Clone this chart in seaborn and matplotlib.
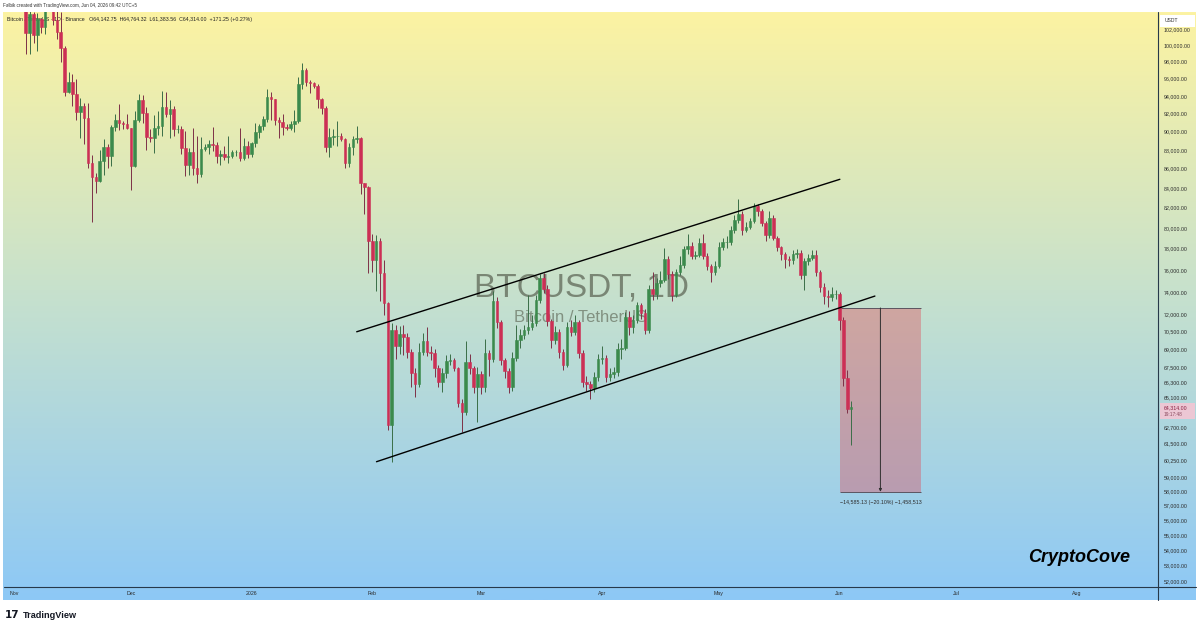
import numpy as np
import pandas as pd
import seaborn as sns
import matplotlib.pyplot as plt
import matplotlib.dates as mdates
from matplotlib import font_manager
from matplotlib.colors import LinearSegmentedColormap
from matplotlib.lines import Line2D
from matplotlib.patches import Rectangle
from matplotlib.ticker import NullLocator, NullFormatter

# BTCUSDT daily candles from 1 Nov 2025, values in thousands of USDT
first_open = 109.6
close_k = [
    # Nov
    110.1, 110.6, 106.5, 101.5, 103.9, 101.3, 103.3, 102.3, 104.7, 106.0,
    103.1, 101.6, 99.7, 94.5, 95.6, 94.2, 92.2, 92.9, 91.5, 86.6,
    85.1, 84.7, 86.8, 88.3, 87.3, 90.5, 91.3, 90.9, 90.8, 90.4,
    # Dec
    86.3, 91.3, 93.5, 92.1, 89.4, 89.3, 90.4, 90.6, 92.7, 92.0,
    92.5, 90.3, 90.3, 88.2, 86.4, 87.8, 86.1, 85.5, 88.1, 88.3,
    88.6, 88.5, 87.4, 87.6, 87.2, 87.3, 87.8, 87.8, 87.1, 88.4, 87.6,
    # Jan
    88.7, 90.0, 90.6, 91.4, 93.9, 93.7, 91.3, 91.0, 90.5, 90.4,
    90.8, 91.2, 95.4, 97.0, 95.6, 95.5, 95.1, 93.6, 92.6, 88.3,
    89.4, 89.5, 89.5, 89.2, 86.6, 88.3, 89.2, 89.3, 84.5, 84.1, 78.7,
    # Feb
    76.9, 78.7, 75.7, 73.0, 62.9, 70.6, 69.3, 70.3, 70.0, 68.8,
    67.0, 66.1, 68.8, 69.7, 68.8, 68.7, 67.4, 66.3, 67.0, 68.0,
    68.1, 67.4, 64.6, 63.9, 67.9, 67.4, 65.9, 66.9,
    # Mar
    65.9, 68.7, 68.2, 73.2, 71.3, 68.1, 67.2, 65.9, 68.3, 69.8,
    70.2, 70.6, 70.9, 71.2, 73.3, 75.3, 74.3, 71.4, 69.8, 70.5,
    68.8, 67.7, 70.9, 70.5, 71.3, 68.7, 66.3, 66.1, 65.8, 66.7, 68.2,
    # Apr
    68.3, 66.7, 66.9, 67.1, 69.0, 69.1, 71.8, 70.9, 71.5, 72.8,
    72.1, 70.6, 74.3, 73.8, 74.8, 75.1, 77.0, 75.6, 73.7, 75.8,
    76.5, 78.0, 78.3, 77.3, 77.4, 78.5, 77.3, 76.4, 75.8, 76.4,
    # May
    78.2, 78.6, 78.6, 79.8, 80.8, 81.4, 79.8, 80.1, 80.7, 82.2,
    81.7, 80.5, 79.3, 81.0, 79.0, 78.2, 77.5, 77.0, 76.9, 77.5,
    77.6, 75.5, 76.8, 77.1, 77.4, 75.8, 74.4, 73.6, 73.5, 73.8, 73.8,
    # Jun
    71.5, 66.6, 64.14275, 64.314,
]
high_k = [
    110.6, 111.2, 110.8, 107.3, 104.5, 104.2, 104.0, 103.4, 105.0, 106.6,
    107.5, 105.3, 104.1, 99.9, 96.8, 96.6, 96.0, 93.8, 93.2, 93.2,
    87.5, 85.6, 88.0, 89.2, 88.6, 90.7, 91.9, 93.1, 91.2, 92.0,
    90.4, 92.3, 94.2, 94.1, 92.7, 90.3, 91.8, 92.3, 94.6, 94.5,
    93.5, 92.8, 90.7, 90.6, 90.1, 88.2, 90.4, 89.5, 89.4, 88.6,
    89.1, 90.5, 88.9, 88.0, 88.4, 89.5, 88.0, 88.0, 90.4, 89.3, 89.0,
    88.9, 90.9, 90.8, 91.7, 94.8, 94.4, 93.7, 91.6, 91.9, 90.8,
    91.2, 92.4, 96.2, 97.9, 97.2, 95.8, 95.6, 95.4, 93.8, 92.8,
    90.4, 90.3, 91.2, 89.8, 89.3, 88.8, 89.5, 90.6, 89.4, 84.5, 84.2,
    79.4, 79.3, 79.0, 76.9, 73.1, 71.2, 71.1, 71.0, 71.1, 70.4,
    69.0, 67.4, 69.5, 70.4, 70.9, 69.3, 69.0, 67.7, 67.4, 68.5,
    68.6, 68.3, 67.5, 64.9, 69.7, 68.6, 67.6, 67.5,
    67.2, 69.9, 68.9, 74.1, 73.5, 71.5, 68.3, 67.4, 68.8, 71.1,
    70.7, 71.1, 73.7, 71.9, 73.7, 75.6, 75.7, 74.6, 71.6, 71.0,
    70.7, 69.0, 71.3, 71.5, 71.9, 71.5, 68.9, 66.8, 66.4, 67.1, 68.6,
    69.3, 68.5, 67.4, 67.5, 69.5, 69.9, 72.2, 72.3, 71.9, 73.1,
    73.0, 72.5, 74.6, 75.8, 75.3, 75.9, 78.1, 77.3, 75.9, 76.1,
    77.3, 78.3, 79.4, 78.6, 77.8, 79.0, 79.4, 77.6, 76.6, 76.8,
    78.6, 79.0, 79.2, 80.2, 81.3, 82.9, 81.7, 80.6, 81.0, 82.5,
    82.4, 81.9, 80.7, 81.7, 81.3, 79.2, 78.3, 77.7, 77.3, 77.9,
    78.0, 77.9, 77.1, 77.5, 77.9, 77.9, 76.0, 74.8, 74.2, 74.4, 74.2,
    74.0, 71.8, 67.3, 64.76432,
]
low_k = [
    109.4, 109.5, 105.3, 98.9, 98.9, 100.3, 99.3, 101.5, 101.4, 104.3,
    102.5, 100.8, 98.0, 94.0, 94.3, 92.9, 91.3, 89.3, 88.6, 86.1,
    80.6, 83.5, 84.6, 85.3, 86.1, 86.3, 90.1, 90.2, 90.3, 90.3,
    83.8, 86.2, 91.0, 90.9, 88.0, 88.9, 87.7, 89.6, 89.5, 91.6,
    89.3, 89.5, 89.8, 87.6, 85.2, 85.3, 85.3, 84.5, 85.1, 87.9,
    87.6, 87.9, 86.6, 86.4, 86.9, 86.6, 87.1, 87.4, 86.8, 86.9, 87.1,
    87.2, 88.3, 89.3, 90.2, 91.0, 91.3, 90.7, 89.3, 89.6, 90.2,
    90.2, 90.0, 90.9, 94.8, 95.1, 94.3, 94.9, 92.6, 91.9, 87.8,
    87.2, 88.5, 88.4, 89.0, 86.1, 86.2, 87.5, 88.8, 83.4, 81.4, 75.7,
    75.8, 74.1, 73.2, 71.9, 62.5, 60.1, 68.2, 68.6, 68.5, 68.3,
    65.9, 65.1, 65.9, 68.5, 68.4, 68.1, 66.7, 65.9, 65.5, 66.6,
    67.7, 67.2, 64.3, 62.4, 63.7, 66.9, 65.4, 63.1,
    65.3, 65.5, 66.8, 67.9, 70.8, 67.7, 66.6, 65.4, 65.6, 68.0,
    69.1, 69.9, 70.3, 70.6, 71.0, 73.0, 73.9, 71.0, 69.1, 69.4,
    68.3, 67.3, 67.5, 70.1, 70.2, 68.3, 65.9, 65.6, 64.9, 65.5, 66.4,
    67.8, 66.3, 66.4, 66.6, 66.8, 68.2, 68.9, 70.2, 70.4, 71.2,
    71.6, 70.3, 70.4, 73.3, 73.4, 74.4, 74.9, 75.2, 73.2, 73.5,
    75.5, 76.2, 77.5, 77.0, 77.0, 77.2, 77.0, 76.0, 74.9, 75.5,
    76.2, 77.9, 78.1, 78.4, 79.5, 80.5, 79.3, 79.6, 79.9, 80.5,
    81.2, 80.2, 78.7, 79.0, 78.8, 77.8, 76.9, 76.2, 76.4, 76.6,
    77.1, 75.2, 74.2, 76.5, 76.9, 75.4, 74.0, 72.9, 72.6, 73.2, 73.4,
    70.6, 66.0, 63.8, 61.38356,
]

month_ticks = ['2025-11-01', '2025-12-01', '2026-01-01', '2026-02-01', '2026-03-01',
               '2026-04-01', '2026-05-01', '2026-06-01', '2026-07-01', '2026-08-01']
month_labels = ['Nov', 'Dec', '2026', 'Feb', 'Mar', 'Apr', 'May', 'Jun', 'Jul', 'Aug']
price_ticks = [102000, 100000, 98000, 96000, 94000, 92000, 90000, 88000, 86000, 84000,
               82000, 80000, 78000, 76000, 74000, 72000, 70500, 69000, 67500, 66300,
               65100, 62700, 61500, 60250, 59000, 58000, 57000, 56000, 55000, 54000,
               53000, 52000]

# rising channel drawn on the chart
upper_dates = ['2026-01-28 00:00', '2026-06-01 02:00']
upper_prices = [70480, 84900]
lower_dates = ['2026-02-02 02:00', '2026-06-10 02:00']
lower_prices = [60140, 73620]

# price range measure tool
measure_dates = ['2026-06-01', '2026-06-22']
measure_prices = [72560.0, 57974.87]
measure_text = '\u221214,585.13 (\u221220.10%) \u22121,458,513'

df = pd.DataFrame({
    'date': pd.date_range('2025-11-01', periods=len(close_k), freq='D'),
    'close': np.array(close_k) * 1000,
    'high': np.array(high_k) * 1000,
    'low': np.array(low_k) * 1000,
})
df['open'] = df['close'].shift(1).fillna(first_open * 1000)
df['x'] = mdates.date2num(df['date'])
up = df['close'] >= df['open']

sns.set_theme(style='white')
plt.rcParams['font.family'] = ['Liberation Sans', 'DejaVu Sans']

W, H = 1200, 629


def fx(px):
    return px / W


def fy(py):
    return 1 - py / H


fig = plt.figure(figsize=(12, 6.29), dpi=100, facecolor='white')

# gradient background + watermark
bg = fig.add_axes([fx(3), fy(600), fx(1196) - fx(3), fy(12) - fy(600)])
cmap = LinearSegmentedColormap.from_list('tv', ['#fcf3a2', '#c4e0cf', '#8dc8f6'])
bg.imshow(np.linspace(0, 1, 256).reshape(-1, 1), aspect='auto', cmap=cmap,
          extent=[0, 1, 0, 1], origin='upper')
bg.set_xlim(0, 1)
bg.set_ylim(0, 1)
bg.set_axis_off()

installed = {f.name for f in font_manager.fontManager.ttflist}
if 'Liberation Sans Narrow' in installed:
    wm_family, wm_size = 'Liberation Sans Narrow', 28
else:
    wm_family, wm_size = 'Liberation Sans', 24
bg.text((582 - 3) / 1193, 1 - (288 - 12) / 588, 'BTCUSDT, 1D', family=wm_family,
        fontsize=wm_size, ha='center', va='center', color='#66705f', alpha=0.8)
bg.text((581 - 3) / 1193, 1 - (318 - 12) / 588, 'Bitcoin / TetherUS', fontsize=12,
        ha='center', va='center', color='#66705f', alpha=0.7)

# main price axes
ax = fig.add_axes([fx(4), fy(587), fx(1158) - fx(4), fy(12) - fy(587)])
ax.set_facecolor('none')
ax.set_yscale('log')

green, red = '#3b8a4c', '#cc2f55'
body_colors = np.where(up, green, red)
wick_colors = np.where(up, '#3a6e47', '#7d3047')

ax.vlines(df['x'], df['low'], df['high'], colors=wick_colors, lw=0.7, zorder=3)
ax.bar(df['x'], df['close'] - df['open'], bottom=df['open'], width=0.66,
       color=body_colors, edgecolor=body_colors, lw=0.4, zorder=4)

# channel lines
sns.lineplot(x=mdates.date2num(pd.to_datetime(upper_dates)), y=upper_prices, ax=ax,
             color='black', lw=1.0, zorder=5)
sns.lineplot(x=mdates.date2num(pd.to_datetime(lower_dates)), y=lower_prices, ax=ax,
             color='black', lw=1.0, zorder=5)

# measure box
mx = mdates.date2num(pd.to_datetime(measure_dates))
p_top, p_bot = measure_prices
ax.add_patch(Rectangle((mx[0], p_bot), mx[1] - mx[0], p_top - p_bot,
                       facecolor='#e4404f', alpha=0.36, lw=0, zorder=2))
ax.hlines([p_top, p_bot], mx[0], mx[1], color='#5b5560', lw=0.7, zorder=2)
xm = mx.mean()
ax.annotate('', xy=(xm, p_bot), xytext=(xm, p_top),
            arrowprops=dict(arrowstyle='-|>', color='#2e2e2e', lw=0.7,
                            mutation_scale=4, shrinkA=0, shrinkB=0), zorder=3)
ax.annotate(measure_text, (xm, p_bot), xytext=(0, -8), textcoords='offset points',
            ha='center', va='center', fontsize=3.8, color='#2b2b2b')

# axes setup
ax.set_xlim(mdates.date2num(pd.Timestamp('2025-10-29 10:00')),
            mdates.date2num(pd.Timestamp('2026-08-21 19:00')))
ax.set_ylim(51610, 104140)
ax.set_xlabel('')
ax.set_ylabel('')
for s in ax.spines.values():
    s.set_visible(False)

ax.yaxis.tick_right()
ax.set_yticks(price_ticks)
ax.set_yticklabels([f'{v:,.2f}' for v in price_ticks])
ax.yaxis.set_minor_locator(NullLocator())
ax.yaxis.set_minor_formatter(NullFormatter())
ax.tick_params(axis='y', length=0, pad=4.3, labelsize=3.8, labelcolor='#2b2b2b')

ax.set_xticks(mdates.date2num(pd.to_datetime(month_ticks)))
ax.set_xticklabels(month_labels)
ax.tick_params(axis='x', length=0, pad=2.6, labelsize=3.8, labelcolor='#2b2b2b')
ax.grid(False)

# scale separators
fig.add_artist(Line2D([fx(4), fx(1196)], [fy(587), fy(587)], color='#27394a', lw=0.8))
fig.add_artist(Line2D([fx(1158), fx(1158)], [fy(12), fy(600)], color='#27394a', lw=0.8))

# header texts
fig.text(fx(3), fy(6), 'Falbik created with TradingView.com, Jun 04, 2026 09:42 UTC+5',
         fontsize=3.3, va='center', color='#333333')
ax.text(fx(7), fy(19),
        'Bitcoin / TetherUS \u00b7 1D \u00b7 Binance   O64,142.75  H64,764.32  '
        'L61,383.56  C64,314.00  +171.25 (+0.27%)',
        transform=fig.transFigure, fontsize=3.8, va='center', color='#222222', zorder=1)

# price scale unit box
fig.add_artist(Rectangle((fx(1160), fy(26.5)), fx(1195) - fx(1160), fy(15) - fy(26.5),
                         transform=fig.transFigure, facecolor='white', edgecolor='none'))
fig.text(fx(1165), fy(20.8), 'USDT', fontsize=3.6, va='center', color='#333333')

# last price label
fig.add_artist(Rectangle((fx(1160), fy(418.5)), fx(1195) - fx(1160), fy(403) - fy(418.5),
                         transform=fig.transFigure, facecolor='#ecc7d4', edgecolor='none'))
fig.text(fx(1163.5), fy(407.3), '64,314.00', fontsize=3.8, va='center', color='#8a1f40')
fig.text(fx(1163.5), fy(414.3), '19:17:48', fontsize=3.4, va='center', color='#8a4a5e')

# signature and footer
fig.text(fx(1079), fy(558), 'CryptoCove', fontsize=13, fontweight='bold', style='italic',
         ha='center', va='center', color='black')
fig.text(fx(5), fy(615.5), '17', family='DejaVu Sans', fontsize=7.5, fontweight='heavy',
         va='center', color='#131722')
fig.text(fx(23), fy(615.5), 'TradingView', fontsize=6.6, fontweight='bold',
         va='center', color='#131722')

fig.savefig('out.png', dpi=100, facecolor='white')
